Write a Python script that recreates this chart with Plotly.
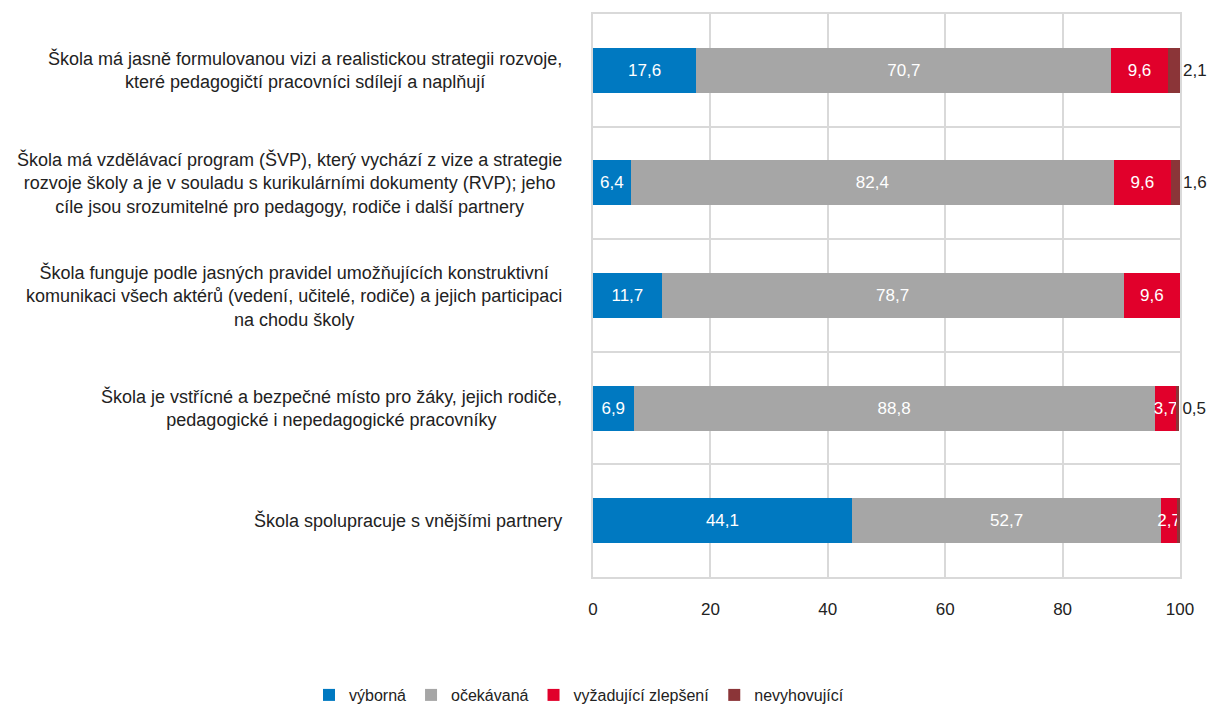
import plotly.graph_objects as go

categories = [
    "Škola má jasně formulovanou vizi a realistickou strategii rozvoje,<br>které pedagogičtí pracovníci sdílejí a naplňují",
    "Škola má vzdělávací program (ŠVP), který vychází z vize a strategie<br>rozvoje školy a je v souladu s kurikulárními dokumenty (RVP); jeho<br>cíle jsou srozumitelné pro pedagogy, rodiče i další partnery",
    "Škola funguje podle jasných pravidel umožňujících konstruktivní<br>komunikaci všech aktérů (vedení, učitelé, rodiče) a jejich participaci<br>na chodu školy",
    "Škola je vstřícné a bezpečné místo pro žáky, jejich rodiče,<br>pedagogické i nepedagogické pracovníky",
    "Škola spolupracuje s vnějšími partnery",
]
keys = ["c1", "c2", "c3", "c4", "c5"]

vyborna = [17.6, 6.4, 11.7, 6.9, 44.1]
ocekavana = [70.7, 82.4, 78.7, 88.8, 52.7]
vyzadujici = [9.6, 9.6, 9.6, 3.7, 2.7]
nevyhovujici = [2.1, 1.6, None, 0.5, 0.5]

series_names = ["výborná", "očekávaná", "vyžadující zlepšení", "nevyhovující"]
colors = ["#0079C1", "#A6A6A6", "#E1002B", "#8B3538"]

FONT = "Liberation Sans, Arial, sans-serif"
TXT = "#222222"

fig = go.Figure()
for i, (name, vals) in enumerate(zip(series_names, [vyborna, ocekavana, vyzadujici, nevyhovujici])):
    last = i == 3
    fig.add_trace(go.Bar(
        y=keys, x=vals, name=name, orientation="h",
        marker=dict(color=colors[i], line=dict(width=0)),
        texttemplate="%{x:.1f}",
        textposition="outside" if last else "inside",
        insidetextanchor="middle",
        constraintext="none",
        textangle=0,
        cliponaxis=False,
        textfont=dict(family=FONT, size=17, color=TXT if last else "white"),
        hoverinfo="skip",
    ))

for k, label in zip(keys, categories):
    fig.add_annotation(
        x=0, y=k, xref="paper", yref="y", text=label, showarrow=False,
        xanchor="right", yanchor="middle", align="center", xshift=-29,
        font=dict(family=FONT, size=18, color=TXT),
    )

fig.update_layout(
    barmode="stack",
    bargap=0.6,
    width=1221, height=710,
    margin=dict(l=585, r=49, t=6, b=141, autoexpand=False),
    paper_bgcolor="white", plot_bgcolor="white",
    separators=", ",
    font=dict(family=FONT, size=17, color=TXT),
    legend=dict(
        orientation="h", xref="paper", yref="paper",
        x=-0.4838, xanchor="left", y=-0.2096, yanchor="middle",
        font=dict(family=FONT, size=16, color=TXT),
        traceorder="normal", itemclick=False, itemdoubleclick=False,
    ),
    xaxis=dict(
        range=[0, 100], dtick=20, showgrid=True, gridcolor="#D9D9D9", gridwidth=1.5,
        zeroline=False, showline=True, mirror=True, linecolor="#D9D9D9", linewidth=1.5,
        ticks="", ticklabelstandoff=16, tickfont=dict(family=FONT, size=17, color=TXT),
    ),
    yaxis=dict(
        categoryorder="array", categoryarray=keys, autorange="reversed",
        tickson="boundaries", showgrid=True, gridcolor="#D9D9D9", gridwidth=1.5,
        showticklabels=False, ticks="", showline=True, mirror=True,
        linecolor="#D9D9D9", linewidth=1.5,
    ),
)

fig.write_html("out.html")
